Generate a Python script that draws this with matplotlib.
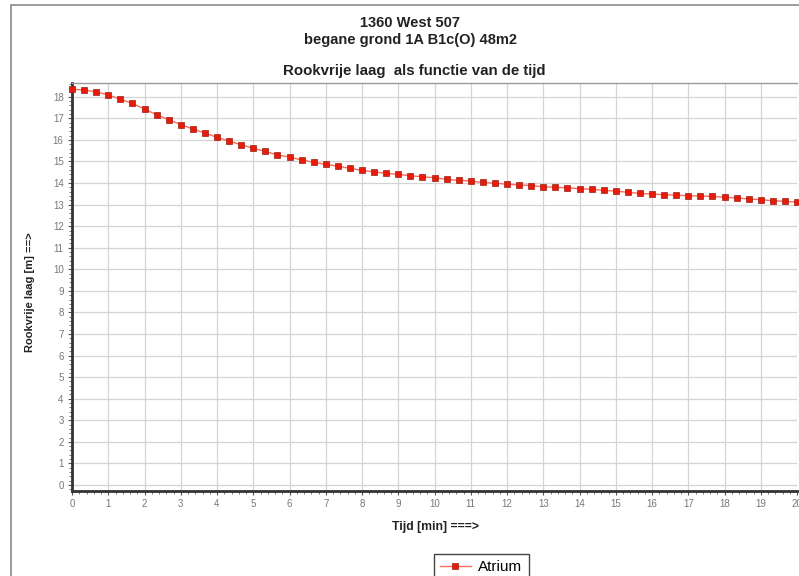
import numpy as np
import matplotlib
matplotlib.use("Agg")
import matplotlib.pyplot as plt
from matplotlib.patches import Rectangle
from matplotlib.ticker import MultipleLocator

# sample times: every 20 s over 20 minutes
tijd = np.linspace(0, 20, 61)

rookvrije_laag = [
    18.36, 18.31, 18.23, 18.09, 17.89, 17.69, 17.43, 17.17, 16.94, 16.71,
    16.51, 16.32, 16.12, 15.94, 15.78, 15.61, 15.47, 15.30, 15.21, 15.07,
    14.96, 14.87, 14.78, 14.68, 14.59, 14.52, 14.45, 14.40, 14.34, 14.29,
    14.25, 14.17, 14.13, 14.09, 14.03, 13.99, 13.95, 13.91, 13.88, 13.83,
    13.80, 13.78, 13.74, 13.71, 13.66, 13.63, 13.57, 13.52, 13.49, 13.46,
    13.44, 13.41, 13.40, 13.38, 13.34, 13.31, 13.26, 13.23, 13.18, 13.15,
    13.12,
]

titel_regels = ["1360 West 507", "begane grond 1A B1c(O) 48m2"]
subtitel = "Rookvrije laag  als functie van de tijd"
x_label = "Tijd [min] ===>"
y_label = "Rookvrije laag [m] ==>"
reeks_naam = "Atrium"

plt.rcParams["font.family"] = ["Liberation Sans", "DejaVu Sans"]

W, H = 799, 576
fig = plt.figure(figsize=(W / 100, H / 100), dpi=100)

# outer panel frame (cut off at right and bottom)
fig.patches.append(Rectangle((11 / W, -0.1), 1.0, 1 - 5 / H + 0.1,
                             transform=fig.transFigure, fill=False,
                             edgecolor="#8a8a8a", linewidth=1.2))

ax = fig.add_axes([72 / W, 1 - 491 / H, (797 - 72) / W, (491 - 83) / H])

ax.plot(tijd, rookvrije_laag, color="#ff6a5a", linewidth=1.0,
        marker="s", markersize=4.4, markerfacecolor="#e81a0a",
        markeredgecolor="#9a2014", markeredgewidth=0.5,
        label=reeks_naam, zorder=3, clip_on=False)

ax.set_xlim(0, 20)
ax.set_ylim(-0.28, 18.64)
ax.xaxis.set_major_locator(MultipleLocator(1))
ax.yaxis.set_major_locator(MultipleLocator(1))
ax.xaxis.set_minor_locator(MultipleLocator(0.2))
ax.yaxis.set_minor_locator(MultipleLocator(0.2))
ax.set_yticks(range(0, 19))

ax.grid(True, which="major", color="#d4d4d4", linewidth=0.9)
ax.set_axisbelow(True)

ax.tick_params(which="major", length=3, width=0.8, color="#555555",
               labelsize=7, labelcolor="#777777", pad=3)
ax.tick_params(which="minor", length=2, width=0.6, color="#666666")

for side in ["left", "bottom"]:
    ax.spines[side].set_color("#333333")
    ax.spines[side].set_linewidth(2.0)
ax.spines["top"].set_color("#9a9a9a")
ax.spines["top"].set_linewidth(1.0)
ax.spines["right"].set_visible(False)

fig.text(410 / W, 1 - 23 / H, titel_regels[0], ha="center", va="center",
         fontsize=10.5, fontweight="bold", color="#222222")
fig.text(410 / W, 1 - 40 / H, titel_regels[1], ha="center", va="center",
         fontsize=10.5, fontweight="bold", color="#222222")
fig.text(414 / W, 1 - 71 / H, subtitel, ha="center", va="center",
         fontsize=10.8, fontweight="bold", color="#222222")

fig.text(436 / W, 1 - 527 / H, x_label, ha="center", va="center",
         fontsize=8.8, fontweight="bold", color="#222222")
fig.text(30 / W, 1 - 292 / H, y_label, ha="center", va="center",
         rotation=90, fontsize=8, fontweight="bold", color="#222222")

leg = fig.legend(loc="upper left", bbox_to_anchor=(434 / W, 1 - 554 / H),
                 bbox_transform=fig.transFigure, fancybox=False,
                 edgecolor="#444444", fontsize=11, handlelength=2.0,
                 borderpad=0.4, handletextpad=0.5, framealpha=1,
                 borderaxespad=0)
leg.get_frame().set_linewidth(1.0)

fig.savefig("out.png", dpi=100)
